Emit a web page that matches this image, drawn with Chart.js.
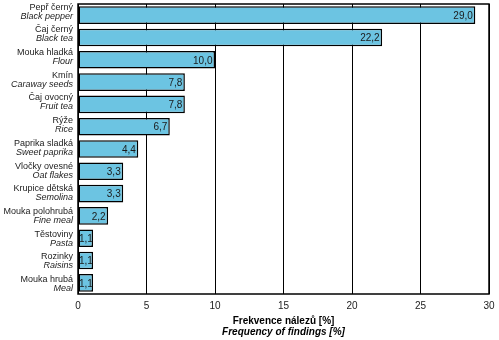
<!DOCTYPE html>
<html>
<head>
<meta charset="utf-8">
<script src="https://cdn.jsdelivr.net/npm/chart.js@4"></script>
<style>
  html, body { margin: 0; padding: 0; background: #fff; }
  #wrap { width: 499px; height: 340px; }
</style>
</head>
<body>
<div id="wrap"><canvas id="myChart"></canvas></div>
<script>
// popisky kategorií (česky / anglicky)
const labelsCz = [
  "Pepř černý", "Čaj černý", "Mouka hladká", "Kmín", "Čaj ovocný", "Rýže",
  "Paprika sladká", "Vločky ovesné", "Krupice dětská", "Mouka polohrubá",
  "Těstoviny", "Rozinky", "Mouka hrubá",
];
const labelsEn = [
  "Black pepper", "Black tea", "Flour", "Caraway seeds", "Fruit tea", "Rice",
  "Sweet paprika", "Oat flakes", "Semolina", "Fine meal",
  "Pasta", "Raisins", "Meal",
];
// frekvence nálezů [%]
const values = [29.0, 22.2, 10.0, 7.8, 7.8, 6.7, 4.4, 3.3, 3.3, 2.2, 1.1, 1.1, 1.1];
const xTicks = [0, 5, 10, 15, 20, 25, 30];
const titleCz = "Frekvence nálezů [%]";
const titleEn = "Frequency of findings [%]";

const FONT = "Arial, 'Liberation Sans', sans-serif";

// popisky osy Y ve dvou řádcích (normální + kurzíva)
const yLabelsPlugin = {
  id: "yLabels",
  afterDraw(chart) {
    const c = chart.ctx;
    const y = chart.scales.y;
    c.save();
    c.fillStyle = "#222";
    c.textAlign = "right";
    c.textBaseline = "middle";
    labelsCz.forEach((t, i) => {
      // blok popisků má o něco větší rozestup než sloupce
      const py = y.getPixelForTick(i) - 3.5 + 0.4 * i;
      c.font = "9px " + FONT;
      c.fillText(t, 73, py - 4.5);
      c.font = "italic 9px " + FONT;
      c.fillText(labelsEn[i], 73, py + 4.5);
    });
    c.restore();
  },
};

// hodnoty uvnitř sloupců + rámeček grafu + název osy X
const extrasPlugin = {
  id: "extras",
  afterDraw(chart) {
    const c = chart.ctx;
    const a = chart.chartArea;
    const meta = chart.getDatasetMeta(0);
    c.save();
    c.fillStyle = "#1a1a1a";
    c.font = "10px " + FONT;
    c.textAlign = "right";
    c.textBaseline = "middle";
    meta.data.forEach((bar, i) => {
      const txt = values[i].toFixed(1).replace(".", ",");
      const w = c.measureText(txt).width;
      const tx = Math.max(bar.x - 2.5, a.left + 1 + w);
      c.fillText(txt, tx, bar.y + 1);
    });
    c.strokeStyle = "#000";
    c.lineWidth = 1.5;
    c.strokeRect(a.left, a.top, a.right - a.left, a.bottom - a.top);
    c.textAlign = "center";
    c.fillStyle = "#000";
    const cx = (a.left + a.right) / 2;
    c.font = "bold 10px " + FONT;
    c.fillText(titleCz, cx, 321);
    c.font = "bold italic 10px " + FONT;
    c.fillText(titleEn, cx, 332);
    c.restore();
  },
};

const ctx = document.getElementById("myChart").getContext("2d");
const chart = new Chart(ctx, {
  type: "bar",
  data: {
    labels: labelsCz,
    datasets: [
      {
        data: values,
        backgroundColor: "#6cc4e2",
        borderColor: "#000",
        borderWidth: 1.5,
        borderSkipped: false,
        barPercentage: 0.79,
        categoryPercentage: 1,
      },
    ],
  },
  options: {
    indexAxis: "y",
    responsive: true,
    maintainAspectRatio: false,
    animation: false,
    layout: {
      padding: { left: 78, right: 10, top: 4, bottom: 22 },
    },
    plugins: {
      legend: { display: false },
      tooltip: { enabled: false },
    },
    scales: {
      x: {
        min: 0,
        max: 30,
        afterBuildTicks: (s) => { s.ticks = xTicks.map((v) => ({ value: v })); },
        // okraje podle layout.padding, ne podle šířky krajních popisků
        afterFit: (s) => { s.paddingLeft = 0; s.paddingRight = 0; },
        grid: { color: "#000", lineWidth: 1, drawTicks: false },
        border: { display: false },
        ticks: {
          color: "#222",
          font: { family: FONT, size: 10 },
          padding: 6,
        },
      },
      y: {
        display: false,
      },
    },
  },
  plugins: [yLabelsPlugin, extrasPlugin],
});
</script>
</body>
</html>
